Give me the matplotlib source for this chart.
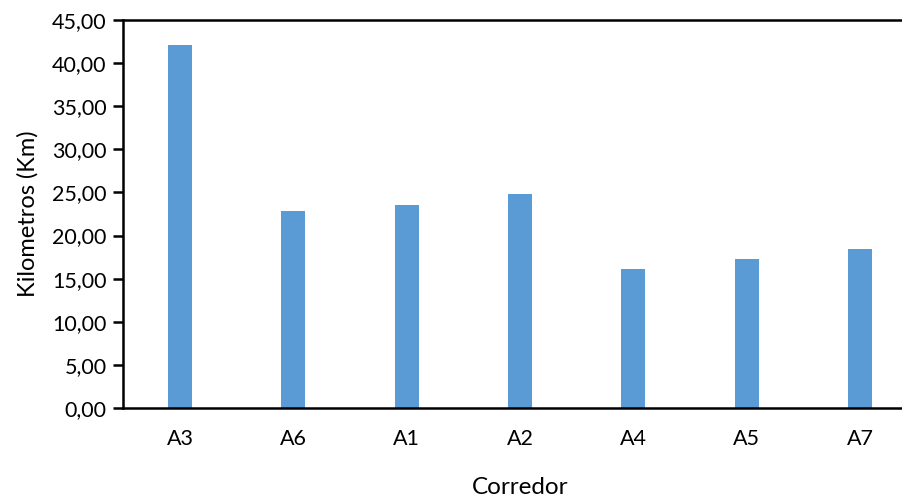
import matplotlib
matplotlib.use("Agg")
from matplotlib import pyplot as plt
from matplotlib.ticker import FuncFormatter

plt.rcParams["font.family"] = ["Lato", "DejaVu Sans"]

corredores = ["A3", "A6", "A1", "A2", "A4", "A5", "A7"]
km = [42.1, 22.9, 23.55, 24.8, 16.1, 17.3, 18.45]

fig = plt.figure(figsize=(9.02, 4.96), dpi=100)
# right edge of the plot area lies a bit outside the picture, as in the original
ax = fig.add_axes([123.3/902, 88/496, (916.7-123.3)/902, 388/496])

x = range(len(corredores))
ax.bar(x, km, width=0.21, color="#5B9BD5", zorder=2)

ax.set_xlim(-0.5, len(corredores) - 0.5)
ax.set_ylim(0, 45)
ax.set_yticks([i*5 for i in range(10)])
ax.yaxis.set_major_formatter(FuncFormatter(lambda v, p: f"{v:.2f}".replace(".", ",")))
ax.set_xticks(list(x))
ax.set_xticklabels(corredores)

for s in ["left", "bottom", "top", "right"]:
  ax.spines[s].set_linewidth(1.8)
  ax.spines[s].set_color("black")

ax.tick_params(axis="y", length=7, width=1.8, labelsize=15.5, pad=5)
ax.tick_params(axis="x", length=0, labelsize=15.5, pad=15)

ax.set_ylabel("Kilometros (Km)", fontsize=17, labelpad=10)
ax.set_xlabel("Corredor", fontsize=17.5, labelpad=20)

fig.savefig("out.png", dpi=100)
